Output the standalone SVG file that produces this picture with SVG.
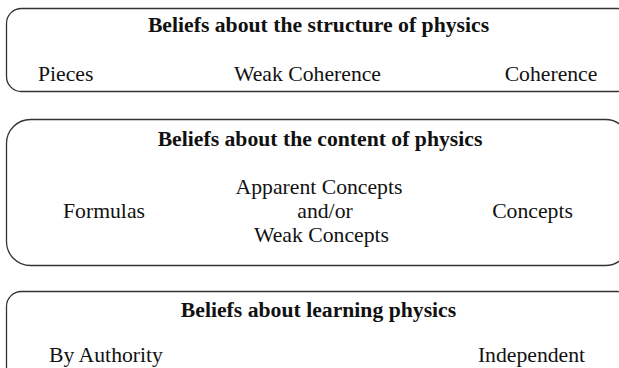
<svg xmlns="http://www.w3.org/2000/svg" width="619" height="368" viewBox="0 0 619 368">
<style>
.box{fill:none;stroke:#333;stroke-width:1.3}
.t{font-family:"Liberation Serif","Times New Roman",serif;font-size:21.7px;fill:#111}
.h{font-weight:bold;text-anchor:middle}
.m{text-anchor:middle}
</style>
<rect width="619" height="368" fill="#fff"/>
<g id="structure">
<rect class="box" x="6.5" y="8.5" width="626" height="83" rx="15"/>
<text class="t h" x="318.5" y="32">Beliefs about the structure of physics</text>
<text class="t" x="38" y="80.5">Pieces</text>
<text class="t m" x="307.5" y="80.5">Weak Coherence</text>
<text class="t m" x="551" y="80.5">Coherence</text>
</g>
<g id="content">
<rect class="box" x="6.5" y="119.5" width="623" height="146" rx="24"/>
<text class="t h" x="320" y="145.5">Beliefs about the content of physics</text>
<text class="t m" x="104" y="218">Formulas</text>
<text class="t m" x="319" y="193.5">Apparent Concepts</text>
<text class="t m" x="325" y="218">and/or</text>
<text class="t m" x="321.5" y="242">Weak Concepts</text>
<text class="t m" x="532.5" y="218">Concepts</text>
</g>
<g id="learning">
<rect class="box" x="6.5" y="291.5" width="626" height="100" rx="15"/>
<text class="t h" x="318.5" y="316.5">Beliefs about learning physics</text>
<text class="t m" x="106" y="362">By Authority</text>
<text class="t m" x="531.5" y="362">Independent</text>
</g>
<g id="connectors"></g>
</svg>
